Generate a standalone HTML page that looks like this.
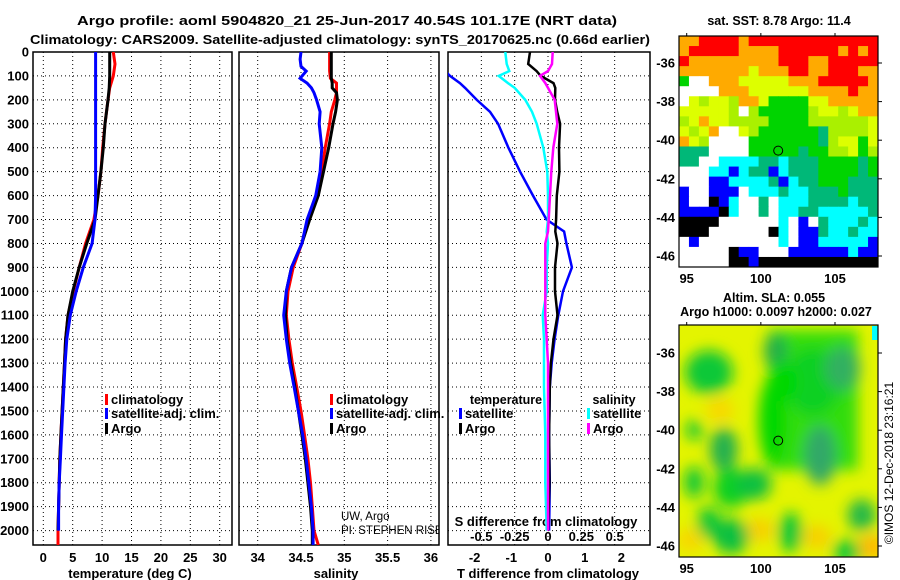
<!DOCTYPE html>
<html><head><meta charset="utf-8">
<style>
html,body{margin:0;padding:0;background:#fff;}
svg{display:block;font-family:"Liberation Sans",sans-serif;}
.b{font-weight:bold;font-size:13px;}
</style></head>
<body>
<svg id="fig" width="900" height="580" viewBox="0 0 900 580" xmlns="http://www.w3.org/2000/svg">
<defs>
<clipPath id="c1"><rect x="33" y="52" width="199" height="493"/></clipPath>
<clipPath id="c2"><rect x="239" y="52" width="200" height="493"/></clipPath>
<clipPath id="c3"><rect x="448" y="52" width="202" height="493"/></clipPath>
<clipPath id="cm2"><rect x="679" y="325" width="199" height="232"/></clipPath>
<filter id="blur" x="-20%" y="-20%" width="140%" height="140%"><feGaussianBlur stdDeviation="7"/></filter>
</defs>
<text class="b" x="347" y="25" text-anchor="middle" font-size="14" textLength="540" lengthAdjust="spacingAndGlyphs">Argo profile: aoml 5904820_21 25-Jun-2017 40.54S 101.17E (NRT data)</text>
<text class="b" x="340" y="44" text-anchor="middle" font-size="14" textLength="620" lengthAdjust="spacingAndGlyphs">Climatology: CARS2009. Satellite-adjusted climatology: synTS_20170625.nc (0.66d earlier)</text>
<g id="layer"></g>
</svg>
<script>
// ---------- data ----------
const depthsClim = [0,50,100,150,200,300,400,500,600,700,800,900,1000,1100,1200,1300,1400,1500,1600,1700,1800,1900,2000,2060];
const depthsArgo = [0,50,100,150,200,300,400,500,600,700,800,900,1000,1100,1200,1300,1400,1500,1600,1700,1800,1900,2000];
const tempClim = [11.9,12.2,11.9,11.3,11.0,10.5,10.1,9.8,9.3,8.6,7.2,6.1,5.1,4.2,3.8,3.6,3.4,3.2,3.0,2.8,2.7,2.6,2.5,2.5];
const tempSat  = [8.9,8.9,8.9,8.9,8.9,8.9,8.9,8.9,8.9,8.8,8.3,6.8,5.6,4.6,4.0,3.7,3.5,3.3,3.1,2.9,2.7,2.6,2.6];
const tempArgo = [11.3,11.3,11.3,11.2,11.0,10.5,10.2,9.8,9.3,8.8,7.4,6.1,5.0,4.2,3.8,3.6,3.4,3.2,3.0,2.8,2.7,2.6,2.5];
const salDepths = [0,30,60,80,110,130,150,170,200,250,300,400,500,600,700,800,900,1000,1100,1200,1300,1400,1500,1600,1700,1800,1900,2000,2060];
const salClim = [34.83,34.83,34.83,34.83,34.84,34.91,34.91,34.91,34.89,34.85,34.83,34.78,34.74,34.68,34.58,34.51,34.41,34.35,34.33,34.36,34.40,34.45,34.50,34.54,34.58,34.61,34.63,34.65,34.70];
const salSat  = [34.50,34.49,34.50,34.56,34.49,34.57,34.62,34.65,34.68,34.72,34.71,34.74,34.72,34.67,34.57,34.51,34.39,34.33,34.30,34.33,34.37,34.42,34.47,34.52,34.56,34.59,34.62,34.64,34.64];
const salArgo = [34.85,34.85,34.85,34.85,34.85,34.86,34.86,34.91,34.92,34.90,34.87,34.82,34.76,34.70,34.60,34.51,34.39,34.33,34.32,34.34,34.38,34.43,34.47,34.51,34.55,34.58,34.61,34.63,34.63];
const diffDepths = [0,50,80,100,130,150,200,250,300,400,500,600,700,750,800,900,1000,1100,1200,1300,1400,1600,1800,2000];
const tDiffSat  = [-3.5,-3.0,-2.8,-2.67,-2.4,-2.26,-1.94,-1.58,-1.36,-1.08,-0.76,-0.41,-0.04,0.44,0.5,0.65,0.41,0.28,0.18,0.1,0.05,0.03,0.05,0.03];
const tDiffArgo = [-0.49,-0.54,-0.31,-0.2,0.15,0.2,0.19,0.25,0.33,0.3,0.31,0.24,0.22,0.2,0.26,0.19,0.19,0.26,0.15,0.08,0.05,0.03,0.04,0.0];
const sDiffSat  = [-0.32,-0.31,-0.29,-0.37,-0.3,-0.25,-0.17,-0.12,-0.085,-0.035,-0.005,0.0,0.0,-0.01,0.0,-0.01,-0.01,-0.04,-0.03,-0.03,-0.03,-0.02,-0.02,-0.01];
const sDiffArgo = [0.035,0.03,0.0,-0.06,-0.02,0.0,0.05,0.06,0.07,0.04,0.025,0.015,0.005,0.0,-0.02,-0.02,-0.02,-0.02,-0.01,0.0,0.0,0.0,0.0,0.0];
const depthTicks = [0,100,200,300,400,500,600,700,800,900,1000,1100,1200,1300,1400,1500,1600,1700,1800,1900,2000];
const tempTicks = [0,5,10,15,20,25,30];
const salTicks = [34,34.5,35,35.5,36];
const tDiffTicks = [-2,-1,0,1,2];
const sDiffTicks = [-0.5,-0.25,0,0.25,0.5];
const sDiffTickLabels = ["-0.5","-0.25","0","0.25","0.5"];
const latTicks = [-36,-38,-40,-42,-44,-46];
const lonTicks = [95,100,105];
const argoLat = -40.54, argoLon = 101.17;
const sstRows = [
"OORRRRORRRRRRRRRRRRR","ORRRRROOOORRRRRROROR","ROOOOOOOOORRROORRRRR","OOOOOOOYOOORROORRROO",
"GWWOOOYYYYYOOORRRRRO","WWWWOOOYYYYYYOOOOROO","WYLYYLOOYGGGGYYOOOOO","YYYYYLWLGGGGGLYYLYOO",
"LYOYYLLLLGGGGLLLLLLY","YLYOWWYLGGGGGGTLLLLY","OYLWWWWGGGGGGGTLYYGY","TTTWWWWGGGGGTGGLLYGL",
"TTWWCCCCTTCTTTGGGGTG","WWWCCBCTTBCTTTGGGGTG","WWWBBCCCCTBCTTGGGTTT","BWWBBBWCCCTCCTTTGTTT",
"BWWKBCWWTWCCCTTTTCTT","BBBBKCWWTWCCTTCCCCCT","KKKKWWWWWWCWBWTCCCTC","KKKWWWWWWKCWBBTCCTCC",
"WBWWWWWWWWCWBBCCCCCB","WWWWWKBBWWWBBBBBBCBB","WWWWWKKBKKKKKKKKKKKK"];
const slaBlobLon = [96.5,101.0,103.5,105.5,97.5,100.8,98.0,104.0,95.5,95.5,99.5,96.5,98.0,102.0,106.8,105.8,101.5];
const slaBlobLat = [-37.0,-35.9,-37.5,-36.8,-41.0,-39.5,-43.0,-41.3,-40.0,-42.7,-42.8,-44.8,-45.5,-45.3,-44.4,-46.3,-37.5];
const slaBlobRx = [24,12,28,18,14,14,18,16,8,10,18,12,18,12,14,14,14];
const slaBlobRy = [22,18,34,22,22,45,20,30,10,16,16,16,18,20,16,12,20];
const slaBlobC  = ["#10c838","#20b048","#10d020","#30b060","#20b050","#00d800","#10d020","#30a868","#10c838","#10c838","#10c040","#10c838","#10c040","#10c838","#20b848","#10c838","#00d800"];
// ---------- helpers / scales ----------
const NS="http://www.w3.org/2000/svg";
const layer=document.getElementById('layer');
function el(tag,attrs,parent){const e=document.createElementNS(NS,tag);for(const k in attrs)e.setAttribute(k,attrs[k]);(parent||layer).appendChild(e);return e;}
const yD = d => 52 + d*0.2393;
const xT = t => 43.3 + t*5.88;
const xS = s => 257.7 + (s-34)*86.6;
const xTD = v => 548 + v*36.7;
const xSD = v => 548 + v*133.3;
const mLon = lo => 686.7 + (lo-95)*14.83;
const mLat1 = la => 63 + (-36-la)*19.3;
const mLat2 = la => 353 + (-36-la)*19.3;
const panels=[{x0:33,x1:232,name:'temperature-panel'},{x0:239,x1:439,name:'salinity-panel'},{x0:448,x1:650,name:'difference-panel'}];
// panels frames, grids
panels.forEach((p,i)=>{
  const g=el('g',{});
  
  
  depthTicks.forEach(d=>{
    const l=el('line',{x1:p.x0,x2:p.x1,y1:yD(d),y2:yD(d),stroke:'#000','stroke-width':1,'stroke-dasharray':'1,3'},g);
    
    
  });
  const xs = i===0? tempTicks.map(xT) : i===1? [34,34.5,35,35.5,36].map(xS) : sDiffTicks.concat([-0.75]).map(xSD);
  xs.forEach(x=>{
    const l=el('line',{x1:x,x2:x,y1:52,y2:545,stroke:'#000','stroke-width':1,'stroke-dasharray':'1,3'},g);
    
    
  });
  const r=el('rect',{x:p.x0,y:52,width:p.x1-p.x0,height:493,fill:'none',stroke:'#000','stroke-width':1.5},g);
  
  
});
depthTicks.forEach(d=>{
  const t=el('text',{x:29,y:yD(d)+4.5,'text-anchor':'end',class:'b','font-size':12});
  t.textContent=d;
  
  
});
function xlabels(ticks,labels,fn,y){ticks.forEach((v,i)=>{const t=el('text',{x:fn(v),y:y,'text-anchor':'middle',class:'b','font-size':12});t.textContent=labels[i];
  
  });}
xlabels(tempTicks,tempTicks.map(String),xT,562);
xlabels(salTicks,salTicks.map(String),xS,562);
xlabels(tDiffTicks,tDiffTicks.map(String),xTD,562);
xlabels(sDiffTicks,sDiffTickLabels,xSD,541);
function title(txt,x,y,name,size,bold){const t=el('text',{x:x,y:y,'text-anchor':'middle','font-size':size||13,'font-weight':bold===false?'normal':'bold'});t.textContent=txt;
  
  return t;}
title('temperature (deg C)',130,578,'temperature-axis-title');
title('salinity',336,578,'salinity-axis-title');
title('T difference from climatology',548,578,'t-difference-axis-title');
title('S difference from climatology',546,526,'s-difference-axis-title');
// lines
function line(xs,ds,fx,color,clip,name,w){
  const pts=xs.map((v,i)=>fx(v).toFixed(1)+','+yD(ds[i]).toFixed(1)).join(' ');
  const p=el('polyline',{points:pts,fill:'none',stroke:color,'stroke-width':w||3,'stroke-linejoin':'miter','clip-path':'url(#'+clip+')'});
  
  
}
line(tempClim,depthsClim,xT,'#ff0000','c1','temperature-climatology-line');
line(tempArgo,depthsArgo,xT,'#000','c1','temperature-argo-line');
line(tempSat,depthsArgo,xT,'#0000ff','c1','temperature-satellite-line');
line(salClim,salDepths,xS,'#ff0000','c2','salinity-climatology-line');
line(salArgo,salDepths,xS,'#000','c2','salinity-argo-line');
line(salSat,salDepths,xS,'#0000ff','c2','salinity-satellite-line');
line(tDiffSat,diffDepths,xTD,'#0000ff','c3','t-diff-satellite-line',2.5);
line(tDiffArgo,diffDepths,xTD,'#000','c3','t-diff-argo-line',2.5);
line(sDiffSat,diffDepths,xSD,'#00ffff','c3','s-diff-satellite-line',2.5);
line(sDiffArgo,diffDepths,xSD,'#ff00ff','c3','s-diff-argo-line',2.5);
// legends
function legend(x,y,color,txt,name){
  const r=el('rect',{x:x,y:y-10,width:3,height:11,fill:color});
  
  
  const t=el('text',{x:x+6,y:y,class:'b','font-size':12.5});t.textContent=txt;
  
  
}
[[0,105],[1,330]].forEach(([i,x])=>{
  legend(x,404,'#ff0000','climatology','legend-climatology');
  legend(x,418,'#0000ff','satellite-adj. clim.','legend-satellite-adj');
  legend(x,433,'#000','Argo','legend-argo');
});
title('temperature',506,404,'legend-temperature-header',12.5);
title('salinity',614,404,'legend-salinity-header',12.5);
legend(459,418,'#0000ff','satellite','legend-t-satellite');
legend(459,433,'#000','Argo','legend-t-argo');
legend(587,418,'#00ffff','satellite','legend-s-satellite');
legend(587,433,'#ff00ff','Argo','legend-s-argo');
let t1=el('text',{x:341,y:520,'font-size':11.5,'clip-path':'url(#c2)'});t1.textContent='UW, Argo';


let t2=el('text',{x:341,y:534,'font-size':11.5,'clip-path':'url(#c2)'});t2.textContent='PI: STEPHEN RISER';


// ---------- SST map ----------
const sstColors={R:'#ff0000',O:'#ffaa00',Y:'#ddff00',L:'#aaf000',G:'#00d400',T:'#00b878',C:'#00ffff',B:'#0000ff',K:'#000000',W:'#ffffff'};
const cw=199/20, ch=231/23;
sstRows.forEach((row,r)=>{[...row].forEach((c,ci)=>{
  const cell=el('rect',{x:679+ci*cw,y:36+r*ch,width:cw+0.5,height:ch+0.5,fill:sstColors[c]});
  
  
});});
function mapFrame(y0,h,fLat,name){
  const f=el('rect',{x:679,y:y0,width:199,height:h,fill:'none',stroke:'#000','stroke-width':1.2});
  
  
  latTicks.forEach(la=>{
    const t=el('text',{x:675,y:fLat(la)+4.5,'text-anchor':'end',class:'b','font-size':12});t.textContent=la;
    
    
    el('line',{x1:878,x2:882,y1:fLat(la),y2:fLat(la),stroke:'#000'});
  });
  lonTicks.forEach(lo=>{
    const t=el('text',{x:mLon(lo),y:y0+h+16,'text-anchor':'middle',class:'b','font-size':12});t.textContent=lo;
    
    
    el('line',{x1:mLon(lo),x2:mLon(lo),y1:y0-3,y2:y0,stroke:'#000'});
  });
  const c=el('circle',{cx:mLon(argoLon),cy:fLat(argoLat),r:4.5,fill:'none',stroke:'#000','stroke-width':1});
  
  
}
mapFrame(36,231,mLat1,'sst-map');
title('sat. SST: 8.78 Argo: 11.4',779,25,'sst-map-title',12.5);
// ---------- SLA map ----------
const sg=el('g',{'clip-path':'url(#cm2)'});


el('rect',{x:679,y:325,width:199,height:232,fill:'#e4f400'},sg);
const fg=el('g',{filter:'url(#blur)'},sg);
[[720,410,'#f8d800'],[760,530,'#f8d000'],[817,537,'#f8d000'],[872,547,'#ffb800'],[833,427,'#f0e800'],[690,540,'#f8d800']].forEach(o=>{
  const e=el('ellipse',{cx:o[0],cy:o[1],rx:14,ry:12,fill:o[2]},fg);
  
  
});
el('rect',{x:768,y:330,width:90,height:140,fill:'#30dd10'},fg);
slaBlobLon.forEach((lo,i)=>{
  const e=el('ellipse',{cx:mLon(lo),cy:mLat2(slaBlobLat[i]),rx:slaBlobRx[i],ry:slaBlobRy[i],fill:slaBlobC[i]},fg);
  
  
});
el('rect',{x:872,y:326,width:6,height:14,fill:'#00ffff'},sg);
mapFrame(325,232,mLat2,'sla-map');
title('Altim. SLA: 0.055',774,302,'sla-map-title',12.5);
title('Argo h1000: 0.0097 h2000: 0.027',776,316,'sla-argo-heights',12.5);
const cr=el('text',{x:0,y:0,'font-size':12,'text-anchor':'middle',transform:'translate(893,463) rotate(-90)'});
cr.textContent='©IMOS 12-Dec-2018 23:16:21';


</script>
</body></html>
